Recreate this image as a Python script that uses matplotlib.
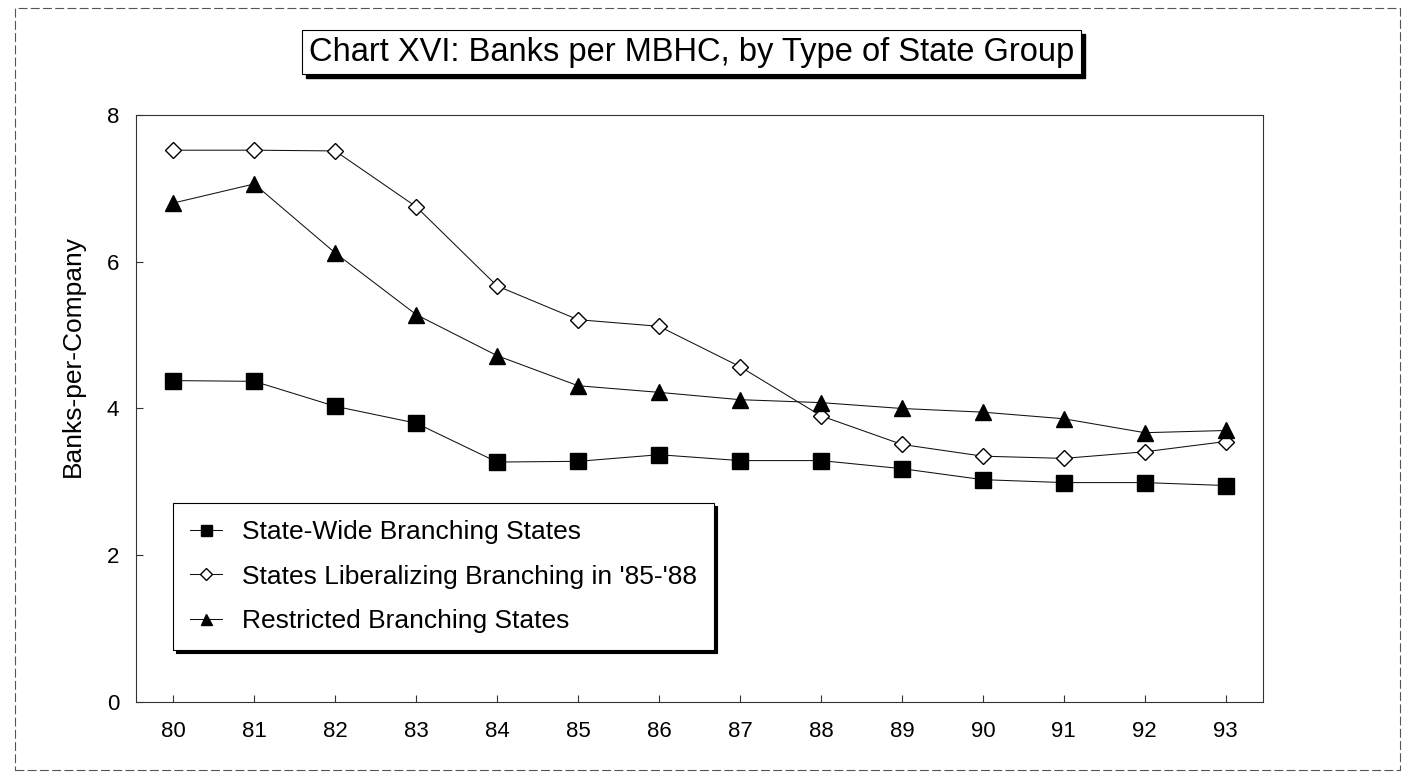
import matplotlib
matplotlib.use("Agg")
import matplotlib.pyplot as plt
from matplotlib.patches import Rectangle
from matplotlib.transforms import IdentityTransform

plt.rcParams["font.family"] = ["Liberation Sans", "DejaVu Sans"]

YEARS = [80, 81, 82, 83, 84, 85, 86, 87, 88, 89, 90, 91, 92, 93]
STATE_WIDE = [4.38, 4.37, 4.03, 3.80, 3.27, 3.28, 3.37, 3.29, 3.29, 3.18, 3.03, 2.99, 2.99, 2.95]
LIBERALIZING = [7.52, 7.52, 7.51, 6.75, 5.67, 5.21, 5.12, 4.57, 3.90, 3.51, 3.35, 3.32, 3.41, 3.55]
RESTRICTED = [6.80, 7.06, 6.12, 5.28, 4.72, 4.31, 4.22, 4.12, 4.08, 4.00, 3.95, 3.86, 3.67, 3.70]

SERIES = [
    ("State-Wide Branching States", STATE_WIDE, "s", 11, "black"),
    ("States Liberalizing Branching in '85-'88", LIBERALIZING, "D", 8, "white"),
    ("Restricted Branching States", RESTRICTED, "^", 11, "black"),
]
TITLE = "Chart XVI: Banks per MBHC, by Type of State Group"

fig = plt.figure(figsize=(14.11, 7.8), dpi=100)
ax = fig.add_axes([0.0964, 0.1, 0.7987, 0.7526])

for label, vals, marker, ms, face in SERIES:
    ax.plot(YEARS, vals, color="#111111", linewidth=0.75, marker=marker,
            markersize=ms, markerfacecolor=face, markeredgecolor="black",
            markeredgewidth=1.0, label=label)

ax.set_xlim(79.54, 93.46)
ax.set_ylim(0, 8)
ax.set_xticks(YEARS)
ax.set_xticklabels([str(y) for y in YEARS])
ax.set_yticks([0, 2, 4, 6, 8])
ax.tick_params(axis="both", direction="in", length=5, width=0.8,
               labelsize=16, color="#333333")
ax.tick_params(axis="x", pad=14)
ax.tick_params(axis="y", pad=12)
for sp in ax.spines.values():
    sp.set_linewidth(0.8)
    sp.set_color("#333333")

ax.set_ylabel("Banks-per-Company", fontsize=19)
ax.yaxis.set_label_coords(-0.045, 0.59)

leg = ax.legend(loc="upper left", bbox_to_anchor=(0.033, 0.339),
                borderaxespad=0, fontsize=19, frameon=True, fancybox=False,
                markerscale=0.72, handlelength=1.2, handletextpad=0.75,
                labelspacing=0.78, borderpad=0.65,
                shadow={"color": "black", "alpha": 1.0})
leg.get_frame().set_edgecolor("black")
leg.get_frame().set_linewidth(0.8)

# title in a box with a hard black drop shadow
title = fig.text(0.49, 0.933, TITLE, fontsize=23.5, ha="center", va="center",
                 color="black", zorder=5,
                 bbox=dict(boxstyle="square,pad=0.2", fc="white", ec="black", lw=0.8))
fig.canvas.draw()
bb = title.get_bbox_patch().get_window_extent()
fig.add_artist(Rectangle((bb.x0 + 4, bb.y0 - 4), bb.width, bb.height,
                         transform=IdentityTransform(), facecolor="black",
                         edgecolor="black", zorder=4))

# outer page frame
fig.add_artist(Rectangle((0.0106, 0.0128), 0.9816, 0.977, transform=fig.transFigure,
                         fill=False, edgecolor="#555555", linewidth=0.8,
                         linestyle=(0, (8, 3))))

fig.savefig("out.png", dpi=100)
